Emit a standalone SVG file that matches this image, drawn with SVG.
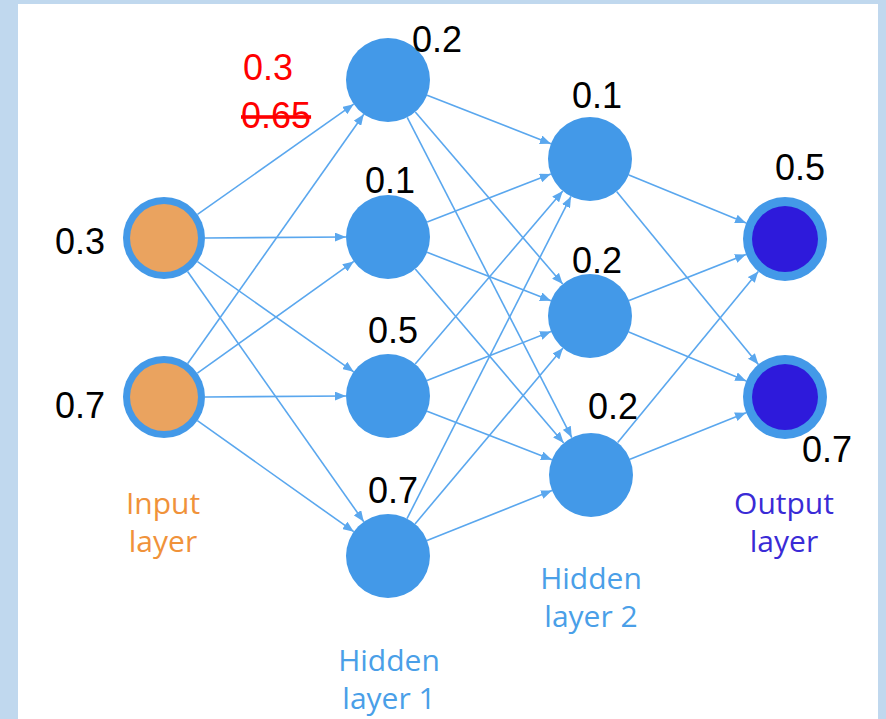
<svg xmlns="http://www.w3.org/2000/svg" width="886" height="719" viewBox="0 0 886 719">
<style>
.edge{stroke:#5aa7ee;stroke-width:1.6;fill:none;marker-end:url(#arr)}
.hid{fill:#4399e8}
.ring{fill:#4399e8}
.val{font-family:"Liberation Sans",Arial,sans-serif;font-size:36px;fill:#000}
.red{font-family:"Liberation Sans",Arial,sans-serif;font-size:36px;fill:#ff0000}
.lab{font-family:"Open Sans","Noto Sans",sans-serif;font-size:30px;text-anchor:middle}
</style>
<defs>
<marker id="arr" markerUnits="userSpaceOnUse" markerWidth="11" markerHeight="9" refX="11" refY="4.5" orient="auto">
<path d="M0,0 L11,4.5 L0,9 z" fill="#5aa7ee"/>
</marker>
</defs>
<rect x="0" y="0" width="886" height="719" fill="#c0d8ee"/>
<rect x="18" y="4" width="860" height="715" fill="#ffffff"/>
<g id="connectors">
<line class="edge" x1="197.5" y1="214.4" x2="353.7" y2="104.2"/>
<line class="edge" x1="205" y1="238" x2="346" y2="237"/>
<line class="edge" x1="197.5" y1="261.6" x2="353.7" y2="371.8"/>
<line class="edge" x1="187.6" y1="271.5" x2="363.8" y2="521.7"/>
<line class="edge" x1="187.7" y1="363.5" x2="363.8" y2="114.3"/>
<line class="edge" x1="197.4" y1="373.2" x2="353.8" y2="261.4"/>
<line class="edge" x1="205" y1="397" x2="346" y2="396"/>
<line class="edge" x1="197.4" y1="420.7" x2="353.8" y2="531.7"/>
<line class="edge" x1="427.1" y1="95.3" x2="550.9" y2="143.7"/>
<line class="edge" x1="415.3" y1="111.9" x2="562.7" y2="284.1"/>
<line class="edge" x1="407.2" y1="117.4" x2="571.8" y2="437.6"/>
<line class="edge" x1="427.2" y1="221.9" x2="550.8" y2="174.1"/>
<line class="edge" x1="427.1" y1="252.3" x2="550.9" y2="300.7"/>
<line class="edge" x1="415.3" y1="269" x2="563.7" y2="443"/>
<line class="edge" x1="415.2" y1="364" x2="562.8" y2="191"/>
<line class="edge" x1="427" y1="380.5" x2="551" y2="331.5"/>
<line class="edge" x1="427.1" y1="411.2" x2="551.9" y2="459.8"/>
<line class="edge" x1="407" y1="518.6" x2="571" y2="196.4"/>
<line class="edge" x1="415" y1="523.9" x2="563" y2="348.1"/>
<line class="edge" x1="427" y1="540.4" x2="552" y2="490.6"/>
<line class="edge" x1="628.9" y1="174.9" x2="746.1" y2="223.1"/>
<line class="edge" x1="616.6" y1="191.5" x2="758.4" y2="364.5"/>
<line class="edge" x1="629.1" y1="300.6" x2="745.9" y2="254.4"/>
<line class="edge" x1="628.8" y1="332.1" x2="746.2" y2="380.9"/>
<line class="edge" x1="617.7" y1="442.6" x2="758.3" y2="271.4"/>
<line class="edge" x1="630" y1="459.3" x2="746" y2="412.7"/>
</g>
<g id="input1"><circle class="ring" cx="164" cy="238" r="41"/><circle cx="164" cy="238" r="34" fill="#eaa35f"/><text class="val" x="55" y="254">0.3</text></g>
<g id="input2"><circle class="ring" cx="164" cy="397" r="41"/><circle cx="164" cy="397" r="34" fill="#eaa35f"/><text class="val" x="55" y="418">0.7</text></g>
<g id="h1a"><circle class="hid" cx="388" cy="80" r="42"/><text class="val" x="412" y="52">0.2</text></g>
<g id="h1b"><circle class="hid" cx="388" cy="237" r="42"/><text class="val" x="365" y="193">0.1</text></g>
<g id="h1c"><circle class="hid" cx="388" cy="396" r="42"/><text class="val" x="368" y="343">0.5</text></g>
<g id="h1d"><circle class="hid" cx="388" cy="556" r="42"/><text class="val" x="368" y="503">0.7</text></g>
<g id="h2a"><circle class="hid" cx="590" cy="159" r="42"/><text class="val" x="572" y="108">0.1</text></g>
<g id="h2b"><circle class="hid" cx="590" cy="316" r="42"/><text class="val" x="572" y="273">0.2</text></g>
<g id="h2c"><circle class="hid" cx="591" cy="475" r="42"/><text class="val" x="588" y="419">0.2</text></g>
<g id="out1"><circle class="ring" cx="785" cy="239" r="42"/><circle cx="785" cy="239" r="33" fill="#2e1adb"/><text class="val" x="775" y="180">0.5</text></g>
<g id="out2"><circle class="ring" cx="785" cy="397" r="42"/><circle cx="785" cy="397" r="33" fill="#2e1adb"/><text class="val" x="802" y="462">0.7</text></g>
<g id="weight">
<text class="red" x="243" y="80">0.3</text>
<text class="red" x="241" y="128" text-decoration="line-through">0.65</text>
</g>
<g id="labels">
<text class="lab" fill="#f0923a"><tspan x="163" y="514">Input</tspan><tspan x="163" y="552">layer</tspan></text>
<text class="lab" fill="#4a9fe8"><tspan x="389" y="671">Hidden</tspan><tspan x="389" y="709">layer 1</tspan></text>
<text class="lab" fill="#4a9fe8"><tspan x="591" y="589">Hidden</tspan><tspan x="591" y="627">layer 2</tspan></text>
<text class="lab" fill="#3a2bd6"><tspan x="784" y="514">Output</tspan><tspan x="784" y="552">layer</tspan></text>
</g>
</svg>
